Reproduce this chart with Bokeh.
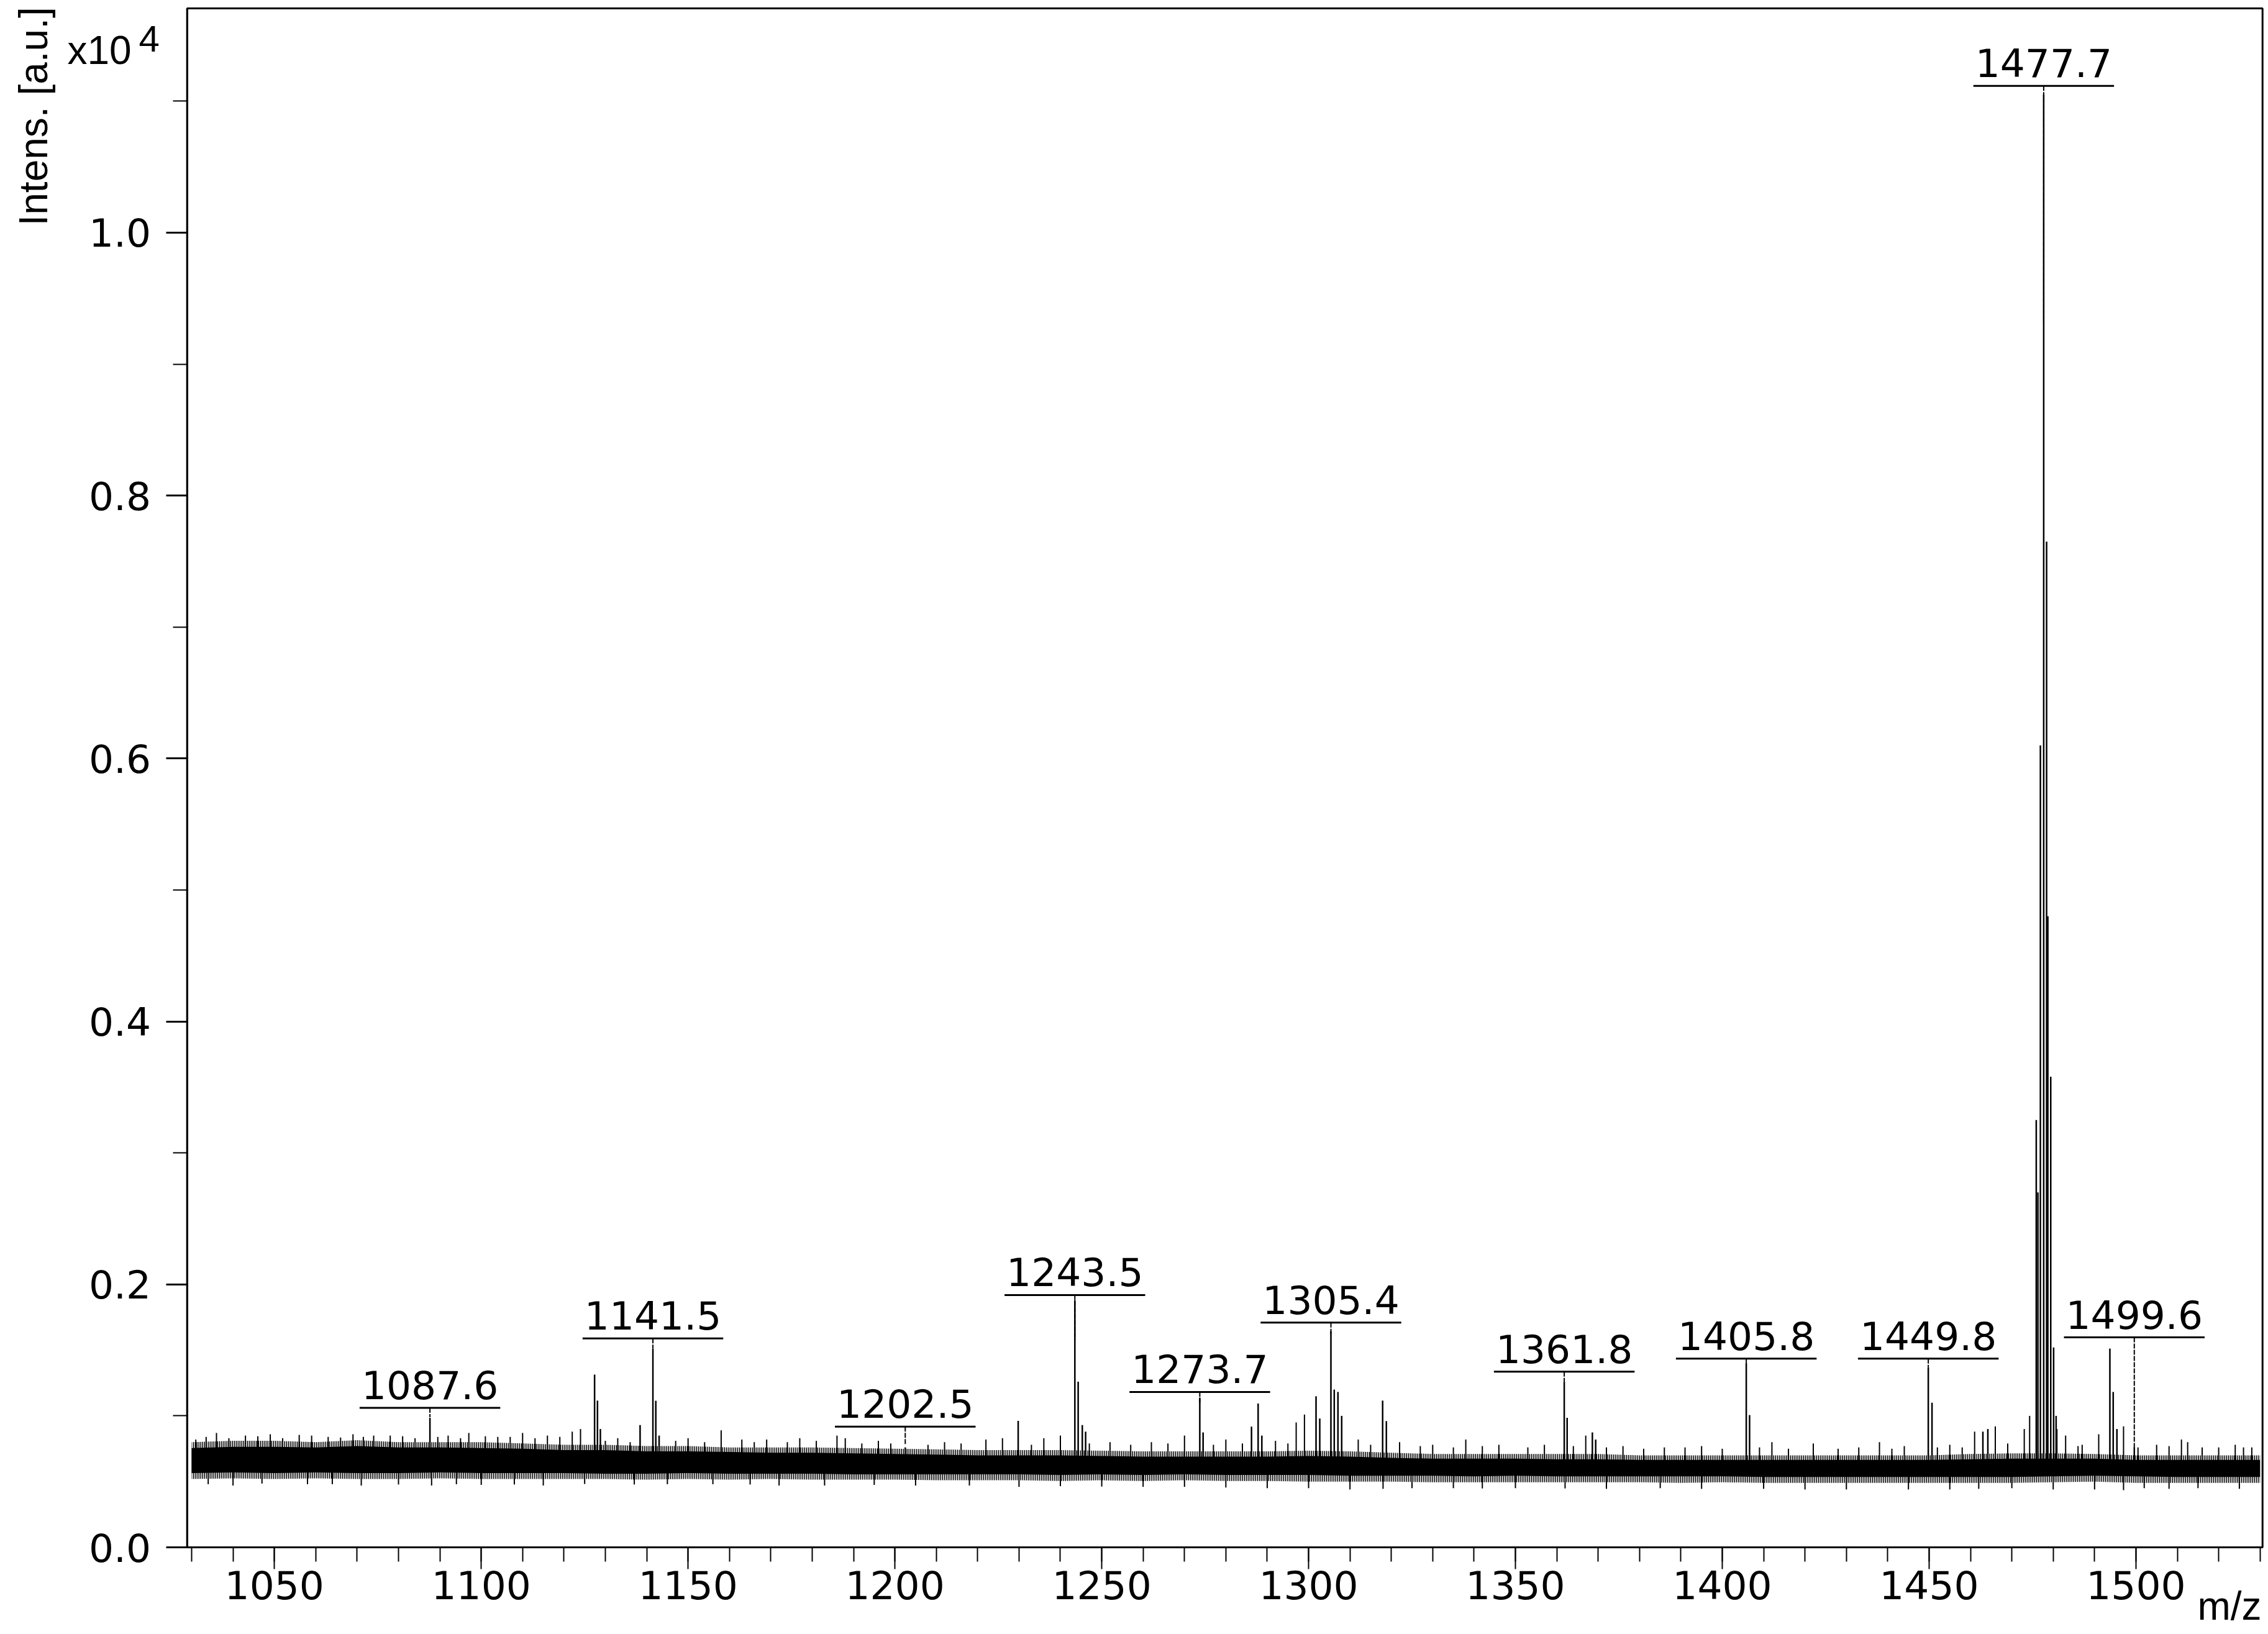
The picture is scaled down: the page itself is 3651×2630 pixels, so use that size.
from bokeh.plotting import figure
from bokeh.models import Range1d, FixedTicker, SingleIntervalTicker, Label
from bokeh.embed import file_html
from bokeh.resources import INLINE
from bokeh.core.properties import value

# ---------------- data ----------------
x_start, x_end = 1028.9, 1530.6
y_start, y_end = 0, 11706

baseline_level = 620

noise_mz = list(range(1030, 1531, 10))
# outer extent of the noise band
noise_low = [520, 525, 520, 525, 520, 520, 525, 520, 520, 520,
             520, 515, 520, 515, 520, 515, 515, 515, 510, 510,
             510, 505, 510, 505, 510, 505, 505, 500, 500, 500,
             495, 495, 495, 495, 495, 495, 490, 495, 490, 490,
             490, 490, 490, 490, 490, 495, 500, 490, 490, 490,
             490]
noise_high = [800, 810, 810, 800, 815, 800, 800, 800, 790, 780,
              780, 770, 770, 760, 760, 760, 755, 750, 745, 740,
              740, 740, 735, 730, 730, 730, 730, 735, 730, 720,
              710, 710, 710, 710, 710, 700, 700, 700, 700, 700,
              700, 700, 700, 710, 715, 715, 710, 700, 700, 700,
              700]
# dense (solid) core of the noise band
core_low = [565, 570, 565, 570, 565, 565, 570, 565, 565, 565,
            560, 560, 565, 560, 560, 560, 555, 555, 555, 555,
            555, 550, 555, 550, 555, 550, 550, 550, 545, 545,
            545, 540, 545, 540, 540, 540, 540, 540, 535, 535,
            535, 535, 535, 535, 535, 540, 545, 540, 535, 535,
            535]
core_high = [755, 765, 765, 760, 770, 760, 760, 755, 750, 740,
             740, 730, 730, 725, 720, 720, 715, 710, 705, 700,
             700, 700, 695, 690, 690, 690, 690, 695, 690, 680,
             675, 675, 675, 670, 670, 665, 665, 665, 665, 665,
             665, 665, 665, 670, 675, 675, 675, 665, 665, 665,
             665]

peak_mz = [1087.6, 1127.4, 1128.1, 1128.8, 1138.4, 1141.5, 1142.2, 1143.0,
           1202.5, 1229.8, 1243.5, 1244.3, 1245.3, 1246.1,
           1273.7, 1274.5, 1286.2, 1287.8, 1288.7,
           1301.8, 1302.7, 1305.4, 1306.2, 1307.1, 1308.0,
           1317.9, 1318.8, 1361.8, 1362.5, 1368.6, 1369.4,
           1405.8, 1406.6, 1449.8, 1450.7, 1463.0, 1464.2,
           1475.9, 1476.3, 1476.9, 1477.7, 1478.4, 1478.7, 1479.4, 1480.1, 1480.7,
           1493.7, 1494.5, 1495.4, 1499.6]
peak_intensity = [985, 1314, 1116, 900, 930, 1512, 1115, 850,
                  760, 962, 1880, 1260, 930, 880,
                  1138, 874, 918, 1094, 850,
                  1149, 980, 1644, 1200, 1182, 1000,
                  1116, 960, 1259, 985, 874, 820,
                  1402, 1006, 1369, 1100, 880, 900,
                  3250, 2700, 6100, 11050, 7650, 4800, 3580, 1520, 1000,
                  1512, 1182, 900, 760]

spike_mz = [1031, 1033.5, 1036, 1039, 1043, 1046, 1049, 1052, 1056, 1059, 1063, 1066,
            1069, 1071.5, 1074, 1078, 1081, 1084, 1089.5, 1092, 1095, 1097, 1101, 1104,
            1107, 1110, 1113, 1116, 1119, 1122, 1124, 1130, 1133, 1136, 1147, 1150,
            1154, 1158, 1163, 1166, 1169, 1174, 1177, 1181, 1186, 1188, 1192, 1196,
            1199, 1208, 1212, 1216, 1222, 1226, 1233, 1236, 1240, 1247, 1252, 1257,
            1262, 1266, 1270, 1277, 1280, 1284, 1292, 1295, 1297, 1299, 1312, 1315,
            1322, 1327, 1330, 1335, 1338, 1342, 1346, 1353, 1357, 1364, 1367, 1372,
            1376, 1381, 1386, 1391, 1395, 1400, 1409, 1412, 1416, 1422, 1428, 1433,
            1438, 1441, 1444, 1452, 1455, 1458, 1461, 1466, 1469, 1473, 1474.3, 1480.9,
            1483, 1486, 1487, 1491, 1497, 1500.5, 1505, 1508, 1511, 1512.5, 1516, 1520,
            1524, 1526, 1528,
            1034, 1040, 1047, 1058, 1064, 1071, 1080, 1088, 1094, 1100, 1108, 1115,
            1125, 1137, 1145, 1156, 1165, 1172, 1183, 1195, 1205, 1218, 1230, 1240,
            1250, 1260, 1270, 1280, 1290, 1300, 1310, 1318, 1325, 1335, 1342, 1350,
            1362, 1372, 1385, 1395, 1410, 1420, 1430, 1445, 1455, 1462, 1470, 1480,
            1490, 1497, 1502, 1508, 1515, 1525]
spike_intensity = [820, 840, 870, 830, 850, 845, 860, 830, 855, 850, 840, 835,
                   860, 840, 850, 850, 845, 830, 840, 850, 830, 870, 845, 840,
                   840, 870, 830, 850, 840, 880, 900, 810, 830, 800, 810, 830,
                   800, 890, 820, 800, 820, 800, 830, 810, 850, 830, 790, 810,
                   790, 780, 800, 790, 820, 830, 780, 830, 850, 790, 800, 780,
                   800, 790, 850, 780, 820, 790, 810, 790, 950, 1010, 820, 780,
                   800, 770, 780, 760, 820, 770, 780, 760, 780, 770, 850, 760,
                   770, 750, 760, 760, 770, 750, 760, 800, 750, 790, 750, 760,
                   800, 750, 770, 760, 780, 760, 880, 920, 790, 900, 1000, 900,
                   850, 770, 780, 860, 920, 760, 780, 770, 820, 800, 760, 760,
                   780, 760, 760,
                   480, 470, 485, 480, 480, 470, 478, 470, 480, 475, 478, 470,
                   482, 478, 480, 480, 478, 470, 470, 475, 470, 470, 460, 465,
                   462, 460, 460, 455, 450, 450, 440, 445, 450, 450, 448, 450,
                   448, 445, 450, 445, 445, 440, 440, 440, 440, 445, 450, 440,
                   440, 435, 450, 445, 450, 445]

label_mz = [1087.6, 1141.5, 1202.5, 1243.5, 1273.7, 1305.4, 1361.8, 1405.8, 1449.8, 1477.7, 1499.6]
label_level = [1061, 1589, 918, 1919, 1182, 1710, 1336, 1435, 1435, 11117, 1597]
label_tip = [990, 1512, 780, 1580, 1100, 1620, 1259, 1402, 1369, 9310, 750]
label_text = [f"{m:.1f}" for m in label_mz]

y_major = [0, 2000, 4000, 6000, 8000, 10000]
y_major_text = ["0.0", "0.2", "0.4", "0.6", "0.8", "1.0"]
y_minor = [1000, 3000, 5000, 7000, 9000, 11000]

# ---------------- layout (pixels) ----------------
W, H = 3651, 2627
FRAME_L, FRAME_R, FRAME_T, FRAME_B = 300.7, 3641.7, 13.0, 2490.0
kx = (FRAME_R - FRAME_L) / (x_end - x_start)
ky = (FRAME_B - FRAME_T) / (y_end - y_start)
x_lo = x_start - FRAME_L / kx
x_hi = x_start + (W - FRAME_L) / kx
y_hi = y_end + FRAME_T / ky
y_lo = y_start - (H - FRAME_B) / ky


def px_x(px):
    return x_start + (px - FRAME_L) / kx


def px_y(py):
    return y_start + (FRAME_B - py) / ky


# ---------------- figure ----------------
p = figure(width=W, height=H, output_backend="svg", toolbar_location=None,
           x_range=Range1d(x_lo, x_hi), y_range=Range1d(y_lo, y_hi),
           min_border_left=0, min_border_right=0, min_border_top=0, min_border_bottom=0)
p.background_fill_color = "white"
p.border_fill_color = "white"
p.outline_line_color = None
p.xgrid.visible = False
p.ygrid.visible = False

num_font = "DejaVu Sans"
txt_font = "Liberation Sans"

xa = p.xaxis[0]
xa.fixed_location = y_start
xa.bounds = (x_start, x_end)
xa.ticker = SingleIntervalTicker(interval=50, num_minor_ticks=5)
xa.axis_line_width = 3
xa.major_tick_line_width = 2
xa.minor_tick_line_width = 2
xa.major_tick_in = 0
xa.major_tick_out = 35
xa.minor_tick_in = 0
xa.minor_tick_out = 23
xa.major_label_standoff = 2
xa.major_label_text_font = num_font
xa.major_label_text_font_size = "63px"
xa.major_label_text_color = "black"

ya = p.yaxis[0]
ya.fixed_location = x_start
ya.bounds = (y_start, y_end)
ya.ticker = FixedTicker(ticks=y_major, minor_ticks=y_minor)
ya.major_label_overrides = dict(zip(y_major, y_major_text))
ya.axis_line_width = 3
ya.major_tick_line_width = 3
ya.minor_tick_line_width = 2
ya.major_tick_in = 0
ya.major_tick_out = 34
ya.minor_tick_in = 0
ya.minor_tick_out = 23
ya.major_label_standoff = 24
ya.major_label_text_font = num_font
ya.major_label_text_font_size = "63px"
ya.major_label_text_color = "black"

# plot box (top and right edges of the frame)
p.quad(left=[x_start], right=[x_end], bottom=[y_start], top=[y_end],
       fill_color=None, line_color="black", line_width=3)

# noise band: fuzzy outer extent + solid core
p.varea(x=noise_mz, y1=noise_low, y2=noise_high, fill_color=None,
        hatch_pattern="vertical_line", hatch_color="black", hatch_weight=2, hatch_scale=3)
p.varea(x=noise_mz, y1=core_low, y2=core_high, fill_color="black")
# noise spikes
p.segment(x0=spike_mz, y0=[baseline_level] * len(spike_mz), x1=spike_mz, y1=spike_intensity,
          line_color="black", line_width=2)
# peaks
p.segment(x0=peak_mz, y0=[baseline_level] * len(peak_mz), x1=peak_mz, y1=peak_intensity,
          line_color="black", line_width=2.5)

# peak annotations
half_w = 17
p.segment(x0=[m - half_w for m in label_mz], y0=label_level,
          x1=[m + half_w for m in label_mz], y1=label_level,
          line_color="black", line_width=3)
p.segment(x0=label_mz, y0=label_level, x1=label_mz, y1=label_tip,
          line_color="black", line_width=2, line_dash="8 2")
p.text(x=label_mz, y=[v + 37 / ky for v in label_level], text=label_text,
       text_font=value(num_font), text_font_size="63px", text_align="center",
       text_baseline="alphabetic", text_color="black")

# axis titles and exponent
p.add_layout(Label(x=px_x(53), y=px_y(363), text="Intens. [a.u.]", angle=1.5707963,
                   text_font=txt_font, text_font_size="64px", text_align="left",
                   text_baseline="alphabetic", text_color="black"))
p.add_layout(Label(x=px_x(108), y=px_y(80), text="x10", text_font=txt_font,
                   text_font_size="64px", text_align="left",
                   text_baseline="alphabetic", text_color="black"))
p.add_layout(Label(x=px_x(223), y=px_y(62), text="4", text_font=txt_font,
                   text_font_size="60px", text_align="left",
                   text_baseline="alphabetic", text_color="black"))
p.text(x=[px_x(3640)], y=[px_y(2584)], text=["m/z"], text_font=value(txt_font),
       text_font_size="64px", text_align="right", text_baseline="alphabetic",
       text_color="black")

open("out.html", "w").write(file_html(p, INLINE))
